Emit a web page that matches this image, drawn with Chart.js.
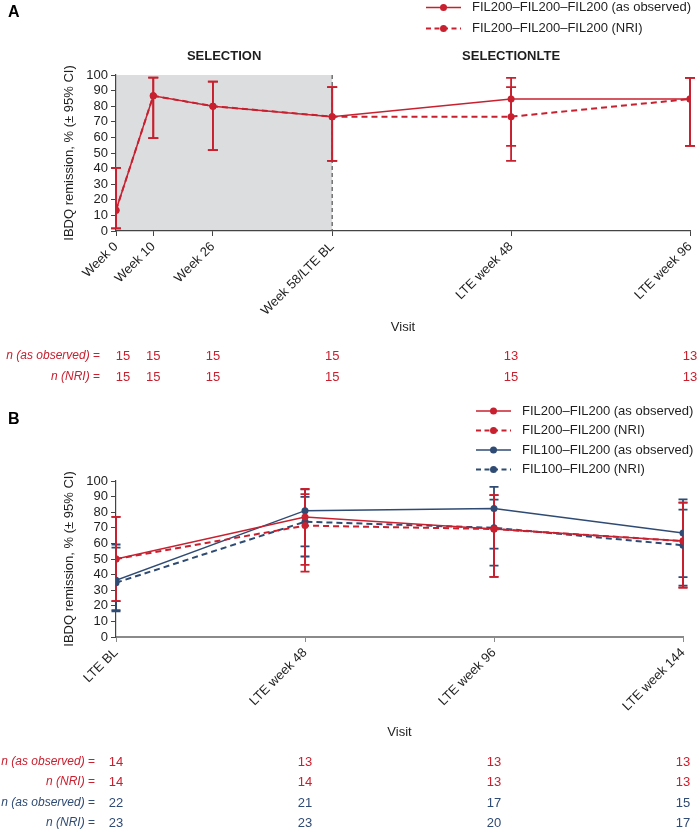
<!DOCTYPE html>
<html>
<head>
<meta charset="utf-8">
<title>IBDQ remission</title>
<script src="https://cdn.jsdelivr.net/npm/chart.js@4.4.1/dist/chart.umd.min.js"></script>
<style>
  html, body { margin: 0; padding: 0; background: #ffffff; }
  #wrap { position: relative; width: 700px; height: 832px; }
  canvas { position: absolute; left: 0; }
  #chartA { top: 0; width: 700px; height: 400px; }
  #chartB { top: 400px; width: 700px; height: 432px; }
</style>
</head>
<body>
<div id="wrap">
  <canvas id="chartA" width="700" height="400"></canvas>
  <canvas id="chartB" width="700" height="432"></canvas>
</div>
<script>
// ---- panel A data (weeks since start of SELECTION) ----
const visitWeeksA = [0, 10, 26, 58, 106, 154];
const visitLabelsA = ["Week 0", "Week 10", "Week 26", "Week 58/LTE BL", "LTE week 48", "LTE week 96"];
const selectionEndWeek = 58;

const obsA = [13.3, 86.7, 80.0, 73.3, 84.6, 84.6];
const obsLoA = [1.7, 59.5, 51.9, 44.9, 54.6, 54.6];
const obsHiA = [40.5, 98.3, 95.7, 92.2, 98.1, 98.1];
const nriA = [13.3, 86.7, 80.0, 73.3, 73.3, 84.6];
const nriLoA = [1.7, 59.5, 51.9, 44.9, 44.9, 54.6];
const nriHiA = [40.5, 98.3, 95.7, 92.2, 92.2, 98.1];
const nObsA = [15, 15, 15, 15, 13, 13];
const nNriA = [15, 15, 15, 15, 15, 13];

// ---- panel B data (weeks since LTE baseline) ----
const visitWeeksB = [0, 48, 96, 144];
const visitLabelsB = ["LTE BL", "LTE week 48", "LTE week 96", "LTE week 144"];

const red200Obs = [50.0, 76.9, 69.2, 61.5];
const red200ObsLo = [23.0, 46.2, 38.6, 31.6];
const red200ObsHi = [77.0, 95.0, 90.9, 86.1];
const red200Nri = [50.0, 71.4, 69.2, 61.5];
const red200NriLo = [23.0, 41.9, 38.6, 31.6];
const red200NriHi = [77.0, 91.6, 90.9, 86.1];
const blue100Obs = [36.4, 81.0, 82.4, 66.7];
const blue100ObsLo = [17.2, 58.1, 56.6, 38.4];
const blue100ObsHi = [59.3, 94.6, 96.2, 88.2];
const blue100Nri = [34.8, 73.9, 70.0, 58.8];
const blue100NriLo = [16.4, 51.6, 45.7, 32.9];
const blue100NriHi = [57.3, 89.8, 88.1, 81.6];
const nRedObsB = [14, 13, 13, 13];
const nRedNriB = [14, 14, 13, 13];
const nBlueObsB = [22, 21, 17, 15];
const nBlueNriB = [23, 23, 20, 17];

const yTitle = "IBDQ remission, % (\u00b1 95% CI)";

const FONT = "'Liberation Sans', Arial, Helvetica, sans-serif";
const RED = "#c8202f";
const BLUE = "#2f4b73";
const TEXT = "#1e1e1e";
const SHADE = "#dcdddf";

Chart.defaults.font.family = FONT;
Chart.defaults.font.size = 13;
Chart.defaults.color = TEXT;

function buildSeries(label, weeks, values, lo, hi, color, dashed, order) {
  return {
    label,
    data: weeks.map((w, i) => ({ x: w, y: values[i] })),
    errLo: lo,
    errHi: hi,
    borderColor: color,
    backgroundColor: color,
    pointBackgroundColor: color,
    pointBorderColor: color,
    borderWidth: dashed ? 2 : 1.5,
    borderDash: dashed ? [6, 4] : [],
    pointRadius: 3.5,
    pointHoverRadius: 3.5,
    pointBorderWidth: 0,
    fill: false,
    tension: 0,
    order,
  };
}

function buildScales(weeks, labels, maxWeek, opts) {
  return {
    x: {
      type: "linear",
      min: 0,
      max: maxWeek,
      afterBuildTicks: (scale) => {
        scale.ticks = weeks.map((w) => ({ value: w }));
      },
      afterFit: (scale) => {
        scale.height = 120;
        scale.paddingLeft = 0;
        scale.paddingRight = 0;
      },
      ticks: {
        autoSkip: false,
        minRotation: 45,
        maxRotation: 45,
        padding: 3,
        callback: (value) => labels[weeks.indexOf(value)],
      },
      grid: { drawOnChartArea: false, tickLength: 5, color: opts.xAxisColor },
      border: { color: opts.xAxisColor, width: opts.xAxisWidth },
      title: {
        display: true,
        text: "Visit",
        padding: { top: 0, bottom: opts.visitPad },
      },
    },
    y: {
      min: 0,
      max: 100,
      ticks: { stepSize: 10, padding: 3, autoSkip: false },
      afterFit: (scale) => {
        scale.width = 116;
        scale.paddingTop = 0;
        scale.paddingBottom = 0;
      },
      grid: { drawOnChartArea: false, tickLength: 5, color: "#444" },
      border: { color: "#444", width: 1.2 },
      title: {
        display: true,
        text: yTitle,
        padding: { top: 62, bottom: 0 },
      },
    },
  };
}

// error bars drawn under the lines, bottom dataset first
const errorBarPlugin = {
  id: "errorBars",
  beforeDatasetsDraw: (chart, args, options) => {
    const { ctx, scales: { x, y } } = chart;
    const cap = options.cap || 5;
    const sets = chart.data.datasets
      .map((ds, i) => ({ ds, i }))
      .sort((a, b) => b.ds.order - a.ds.order);
    ctx.save();
    sets.forEach(({ ds }) => {
      ctx.strokeStyle = ds.borderColor;
      ctx.lineWidth = 1.8;
      ctx.setLineDash([]);
      ds.data.forEach((pt, j) => {
        const px = x.getPixelForValue(pt.x);
        const lo = y.getPixelForValue(ds.errLo[j]);
        const hi = y.getPixelForValue(ds.errHi[j]);
        ctx.beginPath();
        ctx.moveTo(px, lo);
        ctx.lineTo(px, hi);
        ctx.moveTo(px - cap, lo);
        ctx.lineTo(px + cap, lo);
        ctx.moveTo(px - cap, hi);
        ctx.lineTo(px + cap, hi);
        ctx.stroke();
      });
    });
    ctx.restore();
  },
};

function drawLegend(ctx, datasets, left, top, gap) {
  ctx.save();
  ctx.font = `13px ${FONT}`;
  ctx.textBaseline = "middle";
  ctx.textAlign = "left";
  datasets.forEach((ds, i) => {
    const cy = top + i * gap;
    ctx.strokeStyle = ds.borderColor;
    ctx.lineWidth = ds.borderDash.length ? 2 : 1.5;
    ctx.setLineDash(ds.borderDash.length ? [5, 3.5] : []);
    ctx.beginPath();
    ctx.moveTo(left, cy);
    ctx.lineTo(left + 35, cy);
    ctx.stroke();
    ctx.setLineDash([]);
    ctx.fillStyle = ds.borderColor;
    ctx.beginPath();
    ctx.arc(left + 17.5, cy, 3.5, 0, Math.PI * 2);
    ctx.fill();
    ctx.fillStyle = TEXT;
    ctx.fillText(ds.label, left + 46, cy);
  });
  ctx.restore();
}

function drawCountRow(ctx, xScale, weeks, name, counts, color, cy, labelRight, firstShift) {
  ctx.save();
  ctx.fillStyle = color;
  ctx.textBaseline = "middle";
  ctx.font = `12px ${FONT}`;
  const eq = " =";
  const eqW = ctx.measureText(eq).width;
  ctx.textAlign = "right";
  ctx.fillText(eq, labelRight, cy);
  ctx.font = `italic 12px ${FONT}`;
  ctx.fillText(name, labelRight - eqW, cy);
  ctx.font = `13px ${FONT}`;
  ctx.textAlign = "center";
  counts.forEach((n, i) => {
    const px = xScale.getPixelForValue(weeks[i]) + (i === 0 ? firstShift : 0);
    ctx.fillText(String(n), px, cy);
  });
  ctx.restore();
}

function drawPanelLetter(ctx, letter, cy) {
  ctx.save();
  ctx.font = `bold 16px ${FONT}`;
  ctx.fillStyle = "#000";
  ctx.textBaseline = "middle";
  ctx.fillText(letter, 8, cy);
  ctx.restore();
}

const panelAPlugin = {
  id: "panelA",
  beforeDraw: (chart) => {
    const { ctx, chartArea, scales: { x } } = chart;
    const x0 = x.getPixelForValue(visitWeeksA[0]);
    const x1 = x.getPixelForValue(selectionEndWeek);
    ctx.save();
    ctx.fillStyle = SHADE;
    ctx.fillRect(x0, chartArea.top, x1 - x0, chartArea.bottom - chartArea.top);
    ctx.restore();
  },
  beforeDatasetsDraw: (chart) => {
    const { ctx, chartArea, scales: { x } } = chart;
    const xs = x.getPixelForValue(selectionEndWeek);
    ctx.save();
    ctx.strokeStyle = "#555";
    ctx.lineWidth = 1.2;
    ctx.setLineDash([4, 3]);
    ctx.beginPath();
    ctx.moveTo(xs, chartArea.top);
    ctx.lineTo(xs, chartArea.bottom);
    ctx.stroke();
    ctx.restore();
  },
  afterDraw: (chart) => {
    const { ctx, scales: { x } } = chart;
    const lastWeek = visitWeeksA[visitWeeksA.length - 1];
    drawPanelLetter(ctx, "A", 13);

    ctx.save();
    ctx.font = `bold 13px ${FONT}`;
    ctx.fillStyle = TEXT;
    ctx.textAlign = "center";
    ctx.textBaseline = "middle";
    ctx.fillText("SELECTION", (x.getPixelForValue(0) + x.getPixelForValue(selectionEndWeek)) / 2, 56);
    ctx.fillText("SELECTIONLTE", (x.getPixelForValue(selectionEndWeek) + x.getPixelForValue(lastWeek)) / 2, 56);
    ctx.restore();

    drawLegend(ctx, chart.data.datasets, 426, 7.5, 21);

    drawCountRow(ctx, x, visitWeeksA, "n (as observed)", nObsA, RED, 356, 100, 7);
    drawCountRow(ctx, x, visitWeeksA, "n (NRI)", nNriA, RED, 377, 100, 7);
  },
};

const panelBPlugin = {
  id: "panelB",
  afterDraw: (chart) => {
    const { ctx, scales: { x } } = chart;
    drawPanelLetter(ctx, "B", 20);
    drawLegend(ctx, chart.data.datasets, 476, 11, 19.5);
    drawCountRow(ctx, x, visitWeeksB, "n (as observed)", nRedObsB, RED, 362, 95, 0);
    drawCountRow(ctx, x, visitWeeksB, "n (NRI)", nRedNriB, RED, 382, 95, 0);
    drawCountRow(ctx, x, visitWeeksB, "n (as observed)", nBlueObsB, BLUE, 403, 95, 0);
    drawCountRow(ctx, x, visitWeeksB, "n (NRI)", nBlueNriB, BLUE, 423, 95, 0);
  },
};

const commonPlugins = {
  legend: { display: false },
  tooltip: { enabled: false },
  errorBars: { cap: 5 },
};

new Chart(document.getElementById("chartA"), {
  type: "line",
  data: {
    datasets: [
      buildSeries("FIL200\u2013FIL200\u2013FIL200 (as observed)", visitWeeksA, obsA, obsLoA, obsHiA, RED, false, 0),
      buildSeries("FIL200\u2013FIL200\u2013FIL200 (NRI)", visitWeeksA, nriA, nriLoA, nriHiA, RED, true, 1),
    ],
  },
  options: {
    responsive: false,
    animation: false,
    layout: { padding: { left: 0, top: 75, right: 10, bottom: 49 } },
    scales: buildScales(visitWeeksA, visitLabelsA, 154, { xAxisColor: "#444", xAxisWidth: 1.2, visitPad: 16 }),
    plugins: commonPlugins,
  },
  plugins: [panelAPlugin, errorBarPlugin],
});

new Chart(document.getElementById("chartB"), {
  type: "line",
  data: {
    datasets: [
      buildSeries("FIL200\u2013FIL200 (as observed)", visitWeeksB, red200Obs, red200ObsLo, red200ObsHi, RED, false, 0),
      buildSeries("FIL200\u2013FIL200 (NRI)", visitWeeksB, red200Nri, red200NriLo, red200NriHi, RED, true, 1),
      buildSeries("FIL100\u2013FIL200 (as observed)", visitWeeksB, blue100Obs, blue100ObsLo, blue100ObsHi, BLUE, false, 2),
      buildSeries("FIL100\u2013FIL200 (NRI)", visitWeeksB, blue100Nri, blue100NriLo, blue100NriHi, BLUE, true, 3),
    ],
  },
  options: {
    responsive: false,
    animation: false,
    layout: { padding: { left: 0, top: 81, right: 17, bottom: 75 } },
    scales: buildScales(visitWeeksB, visitLabelsB, 144, { xAxisColor: "#8a8a8a", xAxisWidth: 2, visitPad: 17 }),
    plugins: { ...commonPlugins, errorBars: { cap: 4.5 } },
  },
  plugins: [panelBPlugin, errorBarPlugin],
});
</script>
</body>
</html>
